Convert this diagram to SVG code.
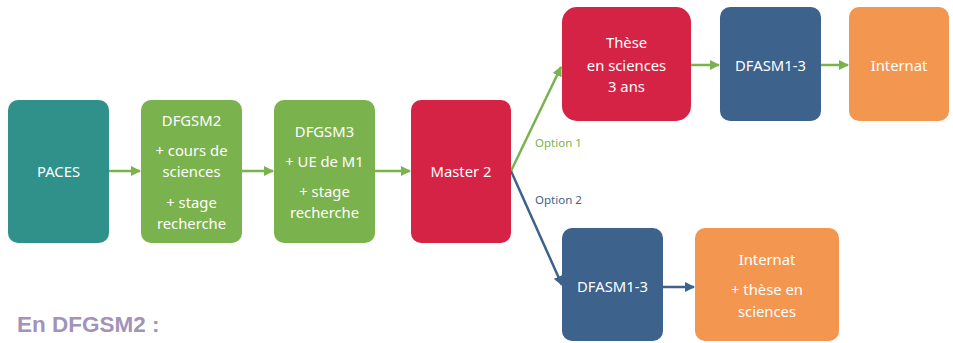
<svg xmlns="http://www.w3.org/2000/svg" width="953" height="343" viewBox="0 0 953 343">
<defs>
<style>
.t{font-family:"Noto Sans","Open Sans",sans-serif;font-size:14.8px;fill:#ffffff;text-anchor:middle}
.lbl{font-family:"Noto Sans","Open Sans",sans-serif;font-size:11.5px}
.g{stroke:#7AB24E;stroke-width:2.5;fill:none}
.b{stroke:#3D628B;stroke-width:2.5;fill:none}
</style>
<marker id="ag" viewBox="0 0 10 10" refX="9" refY="5" markerWidth="4" markerHeight="4" orient="auto" markerUnits="strokeWidth"><path d="M0,0 L10,5 L0,10 z" fill="#7AB24E"/></marker>
<marker id="ab" viewBox="0 0 10 10" refX="9" refY="5" markerWidth="4" markerHeight="4" orient="auto" markerUnits="strokeWidth"><path d="M0,0 L10,5 L0,10 z" fill="#3D628B"/></marker>
</defs>
<rect width="953" height="343" fill="#ffffff"/>
<g id="connectors">
<line class="g" x1="109" y1="171" x2="140" y2="171" marker-end="url(#ag)"/>
<line class="g" x1="242" y1="171" x2="273" y2="171" marker-end="url(#ag)"/>
<line class="g" x1="375" y1="171" x2="410" y2="171" marker-end="url(#ag)"/>
<line class="g" x1="511" y1="171" x2="561" y2="67" marker-end="url(#ag)"/>
<line class="g" x1="691" y1="65" x2="719" y2="65" marker-end="url(#ag)"/>
<line class="g" x1="821" y1="65" x2="848" y2="65" marker-end="url(#ag)"/>
<line class="b" x1="511" y1="171" x2="562" y2="285" marker-end="url(#ab)"/>
<line class="b" x1="662" y1="287" x2="694" y2="287" marker-end="url(#ab)"/>
<text class="lbl" x="535" y="147" fill="#7AB24E">Option 1</text>
<text class="lbl" x="535" y="204" fill="#3D628B">Option 2</text>
</g>
<g id="paces"><rect x="8" y="100" width="101" height="143" rx="10" fill="#2F918A"/><text class="t" x="58.5" y="177">PACES</text></g>
<g id="dfgsm2"><rect x="141" y="100" width="101" height="143" rx="10" fill="#7AB24E"/>
<text class="t" x="191.5" y="126">DFGSM2</text><text class="t" x="191.5" y="156">+ cours de</text><text class="t" x="191.5" y="177">sciences</text><text class="t" x="191.5" y="208">+ stage</text><text class="t" x="191.5" y="229">recherche</text></g>
<g id="dfgsm3"><rect x="274" y="100" width="101" height="143" rx="10" fill="#7AB24E"/>
<text class="t" x="324.5" y="137">DFGSM3</text><text class="t" x="324.5" y="167">+ UE de M1</text><text class="t" x="324.5" y="197">+ stage</text><text class="t" x="324.5" y="218">recherche</text></g>
<g id="master2"><rect x="411" y="100" width="100" height="143" rx="10" fill="#D52346"/><text class="t" x="461" y="177">Master 2</text></g>
<g id="these"><rect x="562" y="7" width="129" height="114" rx="15" fill="#D52346"/>
<text class="t" x="626.5" y="48">Thèse</text><text class="t" x="626.5" y="71">en sciences</text><text class="t" x="626.5" y="92">3 ans</text></g>
<g id="dfasm-top"><rect x="720" y="7" width="101" height="114" rx="10" fill="#3D628B"/><text class="t" x="770.5" y="71">DFASM1-3</text></g>
<g id="internat-top"><rect x="849" y="7" width="100" height="114" rx="10" fill="#F39650"/><text class="t" x="899" y="71">Internat</text></g>
<g id="dfasm-bottom"><rect x="562" y="228" width="101" height="113" rx="10" fill="#3D628B"/><text class="t" x="612.5" y="292">DFASM1-3</text></g>
<g id="internat-bottom"><rect x="695" y="228" width="144" height="113" rx="10" fill="#F39650"/>
<text class="t" x="767" y="265">Internat</text><text class="t" x="767" y="295">+ thèse en</text><text class="t" x="767" y="317">sciences</text></g>
<text x="17" y="332" font-family="'Liberation Sans',sans-serif" font-weight="bold" font-size="22.5" fill="#A393B7">En DFGSM2 :</text>
</svg>
